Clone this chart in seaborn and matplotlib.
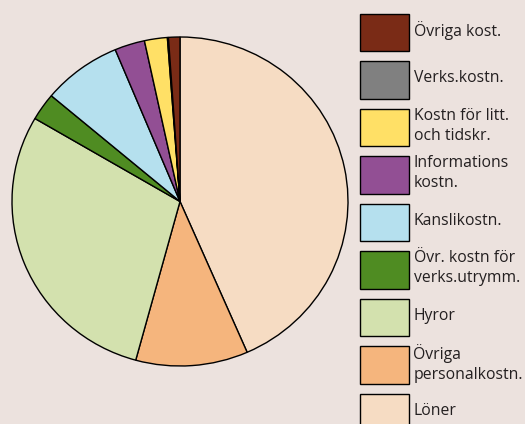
import matplotlib
matplotlib.use("Agg")
import matplotlib.pyplot as plt
import seaborn as sns
from matplotlib.patches import Rectangle

sns.set_theme(style="white")
plt.rcParams["font.family"] = ["Open Sans", "DejaVu Sans"]

# pie order (clockwise from 12 o'clock)
categories = ["Löner", "Övriga\npersonalkostn.", "Hyror", "Övr. kostn för\nverks.utrymm.",
              "Kanslikostn.", "Informations\nkostn.", "Kostn för litt.\noch tidskr.",
              "Verks.kostn.", "Övriga kost."]
shares = [43.5, 10.8, 29.2, 2.7, 7.6, 2.9, 2.2, 0.1, 1.1]
colors = ["#F6DCC3", "#F5B57D", "#D3E1AE", "#4F8C22", "#B5E0EE",
          "#924F94", "#FFE066", "#808080", "#7A2B16"]

bg = "#ECE2DE"

fig = plt.figure(figsize=(5.25, 4.24), dpi=100)
fig.patch.set_facecolor(bg)

# pie axes, placed in pixels
W, H = 525, 424
ax = fig.add_axes([12 / W, (H - 366) / H, 336 / W, 329 / H])
ax.pie(shares, colors=colors, startangle=90, counterclock=False, radius=1,
       wedgeprops=dict(edgecolor="black", linewidth=1.0))
ax.set_aspect("auto")
ax.set_xlim(-1, 1)
ax.set_ylim(-1, 1)
ax.axis("off")

# legend drawn in pixel coords, top to bottom reversed order
lax = fig.add_axes([0, 0, 1, 1])
lax.set_xlim(0, W)
lax.set_ylim(H, 0)
lax.axis("off")
lax.patch.set_alpha(0)

top0, step, bh = 13.5, 47.5, 37.5
for i, (lab, col) in enumerate(zip(categories[::-1], colors[::-1])):
    top = top0 + i * step
    lax.add_patch(Rectangle((359.5, top), 49, bh, facecolor=col,
                            edgecolor="black", linewidth=1.0, clip_on=False))
    lax.text(413.5, top + bh / 2 - 1.5, lab, fontsize=11.3, color="#231F20",
             va="center", ha="left", linespacing=1.3)

fig.savefig("out.png", dpi=100, facecolor=bg)
